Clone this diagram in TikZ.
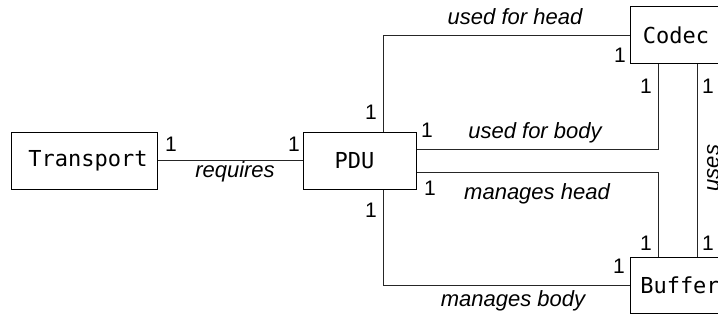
\documentclass[tikz,border=0pt]{standalone}
\usepackage{fontspec}
\setmainfont{Liberation Sans}
\newfontfamily\boxfont{DejaVu Sans Mono}
\usetikzlibrary{calc}
\tikzset{
  cls/.style={draw=black, line width=1pt, rectangle, inner sep=0pt,
    font=\boxfont\fontsize{22}{26}\selectfont},
  lbl/.style={anchor=base, inner sep=0pt, font=\itshape\fontsize{22}{26}\selectfont},
  mult/.style={anchor=base, inner sep=0pt, font=\fontsize{21}{25}\selectfont},
  conn/.style={draw=black!85, line width=1pt}
}
\begin{document}
\begin{tikzpicture}[x=1pt, y=-1pt]
\useasboundingbox (0,0) rectangle (718,321);
% classes
\node[cls, minimum width=146pt, minimum height=57pt] (T) at (84,160.5) {\hspace*{8pt}Transport};
\node[cls, minimum width=113pt, minimum height=57pt] (P) at (359.5,160.5) {PDU\hspace*{10pt}};
\node[cls, minimum width=92pt, minimum height=57pt] (C) at (676,35.5) {Codec};
\node[cls, minimum width=100pt, minimum height=56pt] (B) at (680,285) {Buffer};
% bend coordinates
\coordinate (ptop) at ($(P.north)+(23.5,0)$);
\coordinate (pbot) at ($(P.south)+(23.5,0)$);
\coordinate (pe1) at ($(P.east)+(0,-11.5)$);
\coordinate (pe2) at ($(P.east)+(0,11.5)$);
\coordinate (cs1) at ($(C.south)+(-18,0)$);
\coordinate (cs2) at ($(C.south)+(21,0)$);
\coordinate (bn1) at ($(B.north)+(-22,0)$);
\coordinate (bn2) at ($(B.north)+(17,0)$);
% connectors
\draw[conn] (T.east) -- (P.west);
\draw[conn] (ptop) |- (C.west);
\draw[conn] (pe1) -| (cs1);
\draw[conn] (pe2) -| (bn1);
\draw[conn] (pbot) |- (B.west);
\draw[conn] (cs2) -- (bn2);
% association labels
\node[lbl] (lreq) at (235,177) {requires};
\node[lbl] (lhead) at (515,25) {used for head};
\node[lbl] (lbody) at (535,138) {used for body};
\node[lbl] (lmh) at (537,199) {manages head};
\node[lbl] (lmb) at (513,306) {manages body};
\node[font=\itshape\fontsize{22}{26}\selectfont, inner sep=0pt, rotate=90] (luses) at (713,168) {uses};
% multiplicities
\node[mult] (m1) at (171,151) {1};
\node[mult] (m2) at (294,151) {1};
\node[mult] (m3) at (371,120) {1};
\node[mult] (m4) at (427,137) {1};
\node[mult] (m5) at (430,195) {1};
\node[mult] (m6) at (371,217) {1};
\node[mult] (m7) at (620,63) {1};
\node[mult] (m8) at (646,93) {1};
\node[mult] (m9) at (708,93) {1};
\node[mult] (m10) at (646,250) {1};
\node[mult] (m11) at (708,250) {1};
\node[mult] (m12) at (619,273) {1};
\end{tikzpicture}
\end{document}
